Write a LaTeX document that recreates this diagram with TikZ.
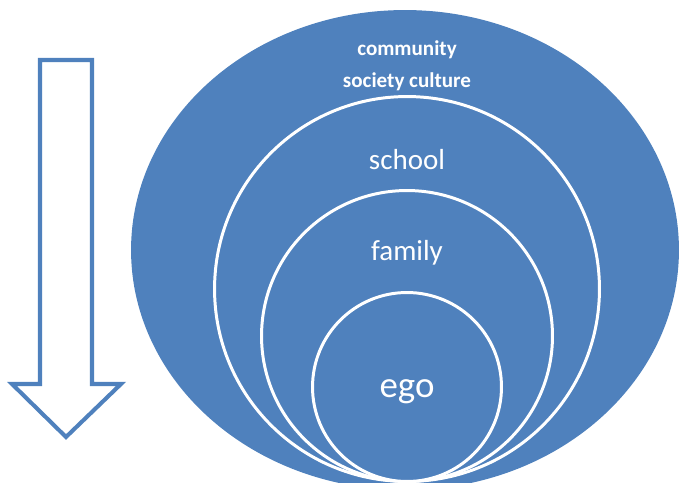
\documentclass[tikz,border=0pt]{standalone}
\usepackage{fontspec}
\setmainfont{Carlito}
\usetikzlibrary{shapes.geometric}
\definecolor{officeblue}{RGB}{79, 129, 189}

\begin{document}
\begin{tikzpicture}[
    x=0.02cm, y=-0.02cm,
    outerbox/.style={
        ellipse, fill=officeblue, inner sep=0pt,
        minimum width=10.96cm, minimum height=9.6cm
    },
    ring/.style={
        circle, draw=white, fill=officeblue, line width=1.7pt, inner sep=0pt
    },
    smalltext/.style={text=white, font=\fontsize{12}{14}\selectfont\bfseries},
    ringtext/.style={text=white, font=\fontsize{16.5}{19}\selectfont},
    egotext/.style={text=white, font=\fontsize{21}{24}\selectfont},
    downarrow/.style={draw=officeblue, fill=white, line width=2.3pt, line join=miter}
]
\useasboundingbox (0,0) rectangle (679,483);

% DOWN ARROW
\draw[downarrow] (40,60) -- (92,60) -- (92,384) -- (121,384) -- (66,437)
    -- (12,384) -- (40,384) -- cycle;

% NESTED CIRCLES (clipped at the bottom edge)
\begin{scope}
\clip (0,0) rectangle (679,483);
\node[outerbox] (outer) at (405,250) {};
\node[ring, minimum size=7.7cm] (school) at (407,289) {};
\node[ring, minimum size=5.82cm] (family) at (407,336) {};
\node[ring, minimum size=3.78cm] (ego) at (407,387) {};
\end{scope}

% LABELS
\node[smalltext] (community) at (407,50) {community};
\node[smalltext] (society) at (407,82) {society culture};
\node[ringtext] (schoollabel) at (407,160) {school};
\node[ringtext] (familylabel) at (407,253) {family};
\node[egotext] (egolabel) at (407,392) {ego};

\end{tikzpicture}
\end{document}
